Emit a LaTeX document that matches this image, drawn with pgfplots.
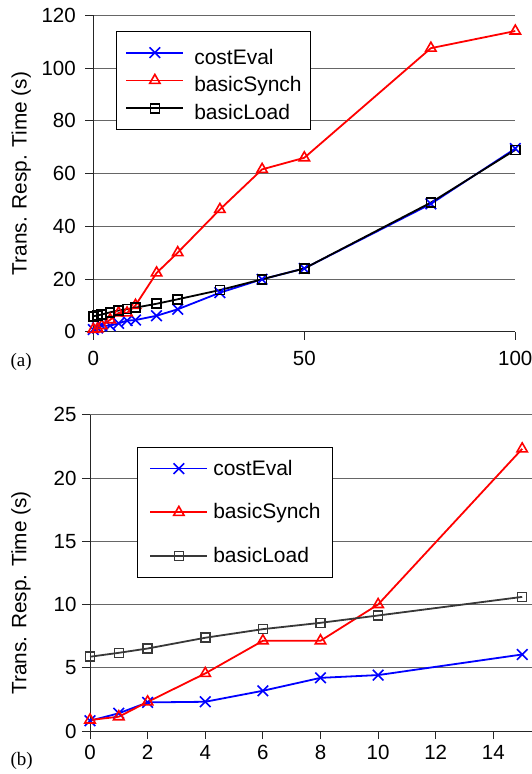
\documentclass[border=0pt]{standalone}
\usepackage{fontspec}
\setmainfont{Liberation Sans}
\newfontfamily\timesfont{Liberation Serif}
\usepackage{pgfplots}
\usepackage{pgfplotstable}
\pgfplotsset{compat=1.18}

% transaction response time vs. x
\pgfplotstableread{
x    cost   synch   load
0    0.81   0.87    5.87
1    1.40   1.13    6.18
2    2.26   2.30    6.52
4    2.31   4.55    7.37
6    3.18   7.13    8.05
8    4.20   7.13    8.55
10   4.42   10.0    9.13
15   6.05   22.3    10.6
20   8.5    30.0    12.3
30   14.8   46.4    15.8
40   19.9   61.6    19.9
50   24.0   66.0    24.0
80   48.5   107.6   49.0
100  69.5   114.1   69.0
}\resp

\pgfplotsset{
  resp/.style={
    scale only axis,
    axis lines=left,
    axis line style={-, black!85, line width=0.9pt},
    tick align=outside,
    major tick length=8pt,
    tick style={black!85, line width=0.9pt},
    ymajorgrids,
    grid style={black!60, line width=0.9pt},
    tick label style={font=\fontsize{20.5}{24}\selectfont},
    /pgf/number format/assume math mode=true,
    ylabel={Trans. Resp. Time (s)},
    ylabel style={font=\fontsize{20.8}{24}\selectfont, anchor=center},
    clip=false,
    legend cell align=left,
    legend image code/.code={
      \draw[mark repeat=2,mark phase=2] plot coordinates {(0pt,0pt) (28.5pt,0pt) (57pt,0pt)};
    },
  },
  ce/.style={blue, line width=1.8pt, mark=x, mark size=7.5pt, mark options={solid, line width=1.6pt}},
  bs/.style={red, line width=1.8pt, mark=triangle, mark size=6pt, mark options={solid, line width=1.6pt}},
  bl/.style={line width=1.8pt, mark=square, mark size=4.5pt, mark options={solid, line width=1.6pt}},
}

\begin{document}
\begin{tikzpicture}
\useasboundingbox (0,0) rectangle (532pt,774pt);
\clip (0,0) rectangle (532pt,774pt);

% (a)
\begin{axis}[resp,
    at={(93.3pt,442.3pt)}, anchor=south west,
    width=422pt, height=316.2pt,
    xmin=0, xmax=100, ymin=0, ymax=120,
    xtick={0,50,100}, ytick={0,20,...,120},
    xticklabel style={yshift=-8pt},
    yticklabel style={xshift=-6pt},
    ylabel style={at={(axis description cs:-0.171,0.5)}},
    legend style={at={(axis description cs:0.0538,0.952)}, anchor=north west,
      draw=black, line width=0.9pt, fill=white,
      font=\fontsize{21}{25}\selectfont,
      inner xsep=9pt, inner ysep=8pt, row sep=0.8pt, column sep=10pt,
      nodes={inner xsep=0pt, inner ysep=0pt, text height=25pt, text depth=2pt}},
]
\addplot[ce] table[x=x, y=cost] {\resp};
\addlegendentry{costEval\hspace{9pt}}
\addplot[bs] table[x=x, y=synch] {\resp};
\addlegendentry{basicSynch\hspace{9pt}}
\addplot[bl, black] table[x=x, y=load] {\resp};
\addlegendentry{basicLoad\hspace{9pt}}
\end{axis}

% (b)
\begin{axis}[resp,
    at={(90pt,43pt)}, anchor=south west,
    width=461pt, height=316.3pt,
    xmin=0, xmax=16, ymin=0, ymax=25,
    xtick={0,2,...,14}, ytick={0,5,...,25},
    xticklabel style={yshift=-3pt},
    yticklabel style={xshift=-2pt},
    restrict x to domain=0:15,
    ylabel style={at={(axis description cs:-0.1497,0.436)}},
    legend style={at={(axis description cs:0.102,0.899)}, anchor=north west,
      draw=black, line width=0.9pt, fill=white,
      font=\fontsize{21}{25}\selectfont,
      inner xsep=12pt, inner ysep=8pt, row sep=16.8pt, column sep=5pt,
      nodes={inner xsep=0pt, inner ysep=0pt, text height=20pt, text depth=7pt}},
]
\addplot[ce] table[x=x, y=cost] {\resp};
\addlegendentry{costEval}
\addplot[bs] table[x=x, y=synch] {\resp};
\addlegendentry{basicSynch}
\addplot[bl, black!78] table[x=x, y=load] {\resp};
\addlegendentry{basicLoad}
\end{axis}

\node[font=\timesfont\fontsize{19}{22}\selectfont, anchor=west] at (7pt,412pt) {(a)};
\node[font=\timesfont\fontsize{19}{22}\selectfont, anchor=west] at (7pt,13pt) {(b)};
\end{tikzpicture}
\end{document}
